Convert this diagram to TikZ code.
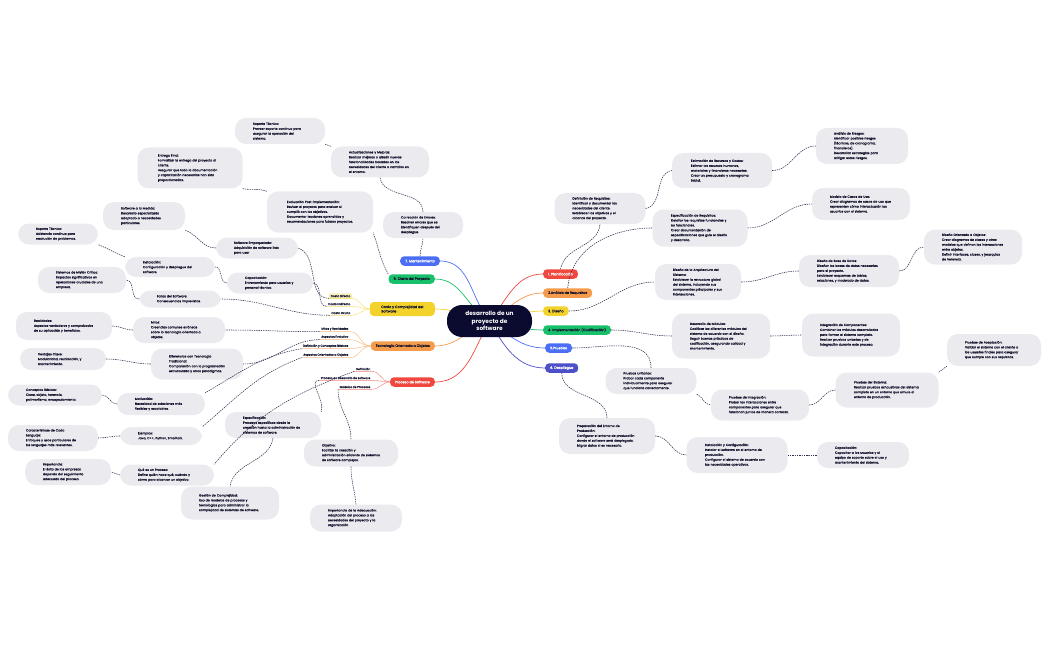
\documentclass[tikz,border=0pt]{standalone}
\usepackage{fontspec}
\setmainfont{Poppins}
\newfontfamily\notefont{Poppins}[FakeBold=0.5]
\usetikzlibrary{backgrounds}
\hyphenpenalty=10000
\exhyphenpenalty=10000

\definecolor{hubc}{HTML}{0B0B30}
\definecolor{cRed}{HTML}{F0483E}
\definecolor{cOrange}{HTML}{F59B4C}
\definecolor{cYellow}{HTML}{F2D22B}
\definecolor{cGreen}{HTML}{18C06B}
\definecolor{cBlue}{HTML}{4C6EF5}
\definecolor{cIndigo}{HTML}{4C4FC8}
\definecolor{noteg}{HTML}{EBEAEE}
\definecolor{linkc}{HTML}{2E2E50}
\definecolor{inkc}{HTML}{14142E}

\begin{document}
\begin{tikzpicture}[
		x=1pt,y=1pt,
		hub/.style={fill=hubc,text=white,rounded corners=15pt,align=center,
			minimum width=85pt,minimum height=32pt,inner sep=2pt,
			font=\fontsize{5.8}{7.2}\selectfont\bfseries},
		branch/.style={rounded corners=4pt,inner xsep=5pt,inner ysep=1.5pt,
			minimum height=9.5pt,align=center,text=inkc,
			font=\notefont\fontsize{3.4}{4.4}\selectfont},
		sub/.style={inner xsep=1.5pt,inner ysep=1pt,text=inkc,
			font=\notefont\fontsize{2.9}{3.4}\selectfont},
		note/.style={fill=noteg,rounded corners=11pt,inner xsep=18pt,inner ysep=3pt,
			align=left,text=inkc,font=\notefont\fontsize{3.1}{4.9}\selectfont},
		arm/.style={line width=0.7pt},
		twig/.style={line width=0.45pt},
		link/.style={line width=0.55pt,draw=linkc,dash pattern=on 1.4pt off 0.9pt}
		]
		\useasboundingbox (0,0) rectangle (1050,-650);
		% ===== Central topic =====
		\node[hub] (c) at (489.5,-321) {desarrollo de un\\proyecto de\\software};
		% ===== Phases, right side =====
		\node[branch,fill=cRed,text=white,anchor=west] (p1) at (543,-274) {1. Planificación};
		\node[branch,fill=cOrange,anchor=west] (p2) at (543,-293) {2.Análisis de Requisitos};
		\node[branch,fill=cYellow,anchor=west] (p3) at (543,-311) {3. Diseño};
		\node[branch,fill=cGreen,anchor=west] (p4) at (543,-330) {4. Implementación (Codificación)};
		\node[branch,fill=cBlue,text=white,anchor=west] (p5) at (545,-348) {5.Pruebas};
		\node[branch,fill=cIndigo,text=white,anchor=west] (p6) at (545,-368) {6. Despliegue};
		% ===== Topics, left side =====
		\node[branch,fill=cBlue,text=white,anchor=east] (b7) at (440,-261) {7. Mantenimiento};
		\node[branch,fill=cGreen,anchor=east] (b8) at (435,-279) {8. Cierre del Proyecto};
		\node[branch,fill=cYellow,anchor=east,align=left,minimum height=14pt,minimum width=65pt] (b9) at (435,-309) {Costo y Complejidad del\\Software};
		\node[branch,fill=cOrange,anchor=east] (b10) at (435,-346) {Tecnología Orientada a Objetos};
		\node[branch,fill=cRed,text=white,anchor=east] (b11) at (435,-382) {Proceso de Software};
		% ===== Arms from the centre =====
		\begin{scope}[on background layer]
			\draw[arm,cRed] (c.center) to[out=50,in=180] (p1.west);
			\draw[arm,cOrange] (c.center) to[out=30,in=180] (p2.west);
			\draw[arm,cYellow] (c.center) to[out=8,in=180] (p3.west);
			\draw[arm,cGreen] (c.center) to[out=-10,in=180] (p4.west);
			\draw[arm,cBlue] (c.center) to[out=-35,in=180] (p5.west);
			\draw[arm,cIndigo] (c.center) to[out=-60,in=180] (p6.west);
			\draw[arm,cBlue] (c.center) to[out=130,in=0] (b7.east);
			\draw[arm,cGreen] (c.center) to[out=150,in=0] (b8.east);
			\draw[arm,cYellow] (c.center) to[out=172,in=0] (b9.east);
			\draw[arm,cOrange] (c.center) to[out=-160,in=0] (b10.east);
			\draw[arm,cRed] (c.center) to[out=-120,in=0] (b11.east);
		\end{scope}
		% ===== Sub topics =====
		\node[sub,anchor=east,fill=cYellow!25,draw=cYellow!70,rounded corners=1pt] (cd) at (352,-296) {Costo Directo};
		\node[sub,anchor=east] (ci) at (352,-304) {Costo Indirecto};
		\node[sub,anchor=east] (co) at (352,-313) {Costo Oculto};
		\node[sub,anchor=east] (mr) at (350,-329) {Mitos y Realidades};
		\node[sub,anchor=east] (ae) at (350,-337) {Aspectos Evolutivo};
		\node[sub,anchor=east] (dc) at (350,-346) {Definición y Conceptos Básicos};
		\node[sub,anchor=east] (ao) at (350,-355) {Aspectos Orientados a Objetos};
		\node[sub,anchor=east] (df) at (372,-369) {Definición};
		\node[sub,anchor=east] (pd) at (372,-378) {Proceso en Desarrollo de software};
		\node[sub,anchor=east] (mp) at (372,-387) {Modelos de Procesos};
		\foreach \s/\b/\col in {cd/b9/cYellow,ci/b9/cYellow,co/b9/cYellow,
			mr/b10/cOrange,ae/b10/cOrange,dc/b10/cOrange,ao/b10/cOrange,
			df/b11/cRed,pd/b11/cRed,mp/b11/cRed}{
			\draw[twig,\col!70] (\b.west) to[out=180,in=0] (\s.south east) -- (\s.south west);
		}
		% ===== Notes: planning =====
		\node[note,minimum width=89pt,minimum height=31pt,text width=55pt] (nDefReq) at (600,-208.5)
		{Definición de Requisitos:\\Identificar y documentar las necesidades del cliente.\\Establecer los objetivos y el alcance del proyecto.};
		\node[note,minimum width=100pt,minimum height=35pt,text width=62pt] (nEstim) at (722,-170.5)
		{Estimación de Recursos y Costos:\\Estimar los recursos humanos, materiales y financieros necesarios.\\Crear un presupuesto y cronograma inicial.};
		\node[note,minimum width=92pt,minimum height=36pt,text width=56pt] (nRiesgo) at (862,-146)
		{Análisis de Riesgos:\\Identificar posibles riesgos (técnicos, de cronograma, financieros).\\Desarrollar estrategias para mitigar estos riesgos.};
		% ===== Notes: requirements =====
		\node[note,minimum width=95pt,minimum height=37pt,text width=58pt] (nEspec) at (700,-228)
		{Especificación de Requisitos:\\Detallar los requisitos funcionales y no funcionales.\\Crear documentación de especificaciones que guíe el diseño y desarrollo.};
		\node[note,minimum width=98pt,minimum height=32pt,text width=62pt] (nCasos) at (861,-204)
		{Modelo de Casos de Uso:\\Crear diagramas de casos de uso que representen cómo interactuarán los usuarios con el sistema.};
		% ===== Notes: design =====
		\node[note,minimum width=84pt,minimum height=36pt,text width=50pt] (nArq) at (698,-282)
		{Diseño de la Arquitectura del Sistema:\\Establecer la estructura global del sistema, incluyendo sus componentes principales y sus interacciones.};
		\node[note,minimum width=100pt,minimum height=32pt,text width=64pt] (nBD) at (849,-271)
		{Diseño de Base de Datos:\\Diseñar las bases de datos necesarias para el proyecto.\\Establecer esquemas de tablas, relaciones, y modelado de datos.};
		\node[note,minimum width=98pt,minimum height=35pt,text width=62pt] (nDOO) at (973,-247)
		{Diseño Orientado a Objetos:\\Crear diagramas de clases y otros modelos que definan las interacciones entre objetos.\\Definir interfaces, clases, y jerarquías de herencia.};
		% ===== Notes: implementation =====
		\node[note,minimum width=98pt,minimum height=45pt,text width=62pt] (nMod) at (721,-336)
		{Desarrollo de Módulos:\\Codificar los diferentes módulos del sistema de acuerdo con el diseño.\\Seguir buenas prácticas de codificación, asegurando calidad y mantenimiento.};
		\node[note,minimum width=98pt,minimum height=43pt,text width=62pt] (nInteg) at (851,-335)
		{Integración de Componentes:\\Combinar los módulos desarrollados para formar el sistema completo.\\Realizar pruebas unitarias y de integración durante este proceso.};
		% ===== Notes: testing =====
		\node[note,minimum width=89pt,minimum height=26pt,text width=55pt] (nUnit) at (651,-381)
		{Pruebas Unitarias:\\Probar cada componente individualmente para asegurar que funciona correctamente.};
		\node[note,minimum width=98pt,minimum height=31pt,text width=62pt] (nIntegP) at (760,-405)
		{Pruebas de Integración:\\Probar las interacciones entre componentes para asegurar que funcionan juntos de manera correcta.};
		\node[note,minimum width=103pt,minimum height=35pt,text width=66pt] (nSist) at (887,-390)
		{Pruebas del Sistema:\\Realizar pruebas exhaustivas del sistema completo en un entorno que simule el entorno de producción.};
		\node[note,minimum width=93pt,minimum height=32pt,text width=58pt] (nAcept) at (994,-350)
		{Pruebas de Aceptación:\\Validar el sistema con el cliente o los usuarios finales para asegurar que cumple con sus requisitos.};
		% ===== Notes: deployment =====
		\node[note,minimum width=96pt,minimum height=36pt,text width=60pt] (nEntorno) at (607,-436)
		{Preparación del Entorno de Producción:\\Configurar el entorno de producción donde el software será desplegado.\\Migrar datos si es necesario.};
		\node[note,minimum width=101pt,minimum height=36pt,text width=64pt] (nInst) at (737,-455)
		{Instalación y Configuración:\\Instalar el software en el entorno de producción.\\Configurar el sistema de acuerdo con las necesidades operativas.};
		\node[note,minimum width=90pt,minimum height=26pt,text width=56pt] (nCapac) at (863,-455)
		{Capacitación:\\Capacitar a los usuarios y al equipo de soporte sobre el uso y mantenimiento del sistema.};
		% ===== Notes: maintenance and closing =====
		\node[note,minimum width=73pt,minimum height=26pt,text width=44pt] (nCorr) at (423,-225)
		{Corrección de Errores:\\Resolver errores que se identifiquen después del despliegue.};
		\node[note,minimum width=98pt,minimum height=31pt,text width=62pt] (nActu) at (380,-162)
		{Actualizaciones y Mejoras:\\Realizar mejoras o añadir nuevas funcionalidades basadas en las necesidades del cliente o cambios en el entorno.};
		\node[note,minimum width=88pt,minimum height=26pt,text width=54pt] (nSopT) at (280,-131)
		{Soporte Técnico:\\Proveer soporte continuo para asegurar la operación del sistema.};
		\node[note,minimum width=106pt,minimum height=41pt,text width=66pt] (nEval) at (320,-212)
		{Evaluación Post-implementación:\\Revisar el proyecto para evaluar si cumplió con los objetivos.\\Documentar lecciones aprendidas y recomendaciones para futuros proyectos.};
		\node[note,minimum width=105pt,minimum height=41pt,text width=64pt] (nEntrega) at (190,-168)
		{Entrega Final:\\Formalizar la entrega del proyecto al cliente.\\Asegurar que toda la documentación y capacitación necesarias han sido proporcionadas.};
		% ===== Notes: cost =====
		\node[note,minimum width=76pt,minimum height=21pt,text width=46pt] (nSwEmp) at (257,-248)
		{Software Empaquetado:\\Adquisición de software listo para usar};
		\node[note,minimum width=76pt,minimum height=28pt,text width=46pt] (nSwMed) at (144,-216)
		{Software a la Medida:\\Desarrollo especializado adaptado a necesidades particulares.};
		\node[note,minimum width=76pt,minimum height=21pt,text width=50pt] (nCapT) at (270,-283)
		{Capacitación:\\Entrenamiento para usuarios y personal técnico.};
		\node[note,minimum width=85pt,minimum height=20pt,text width=54pt] (nInstal) at (170,-267)
		{Instalación:\\Configuración y despliegue del software.};
		\node[note,minimum width=72pt,minimum height=21pt,text width=44pt] (nSopT2) at (58,-234)
		{Soporte Técnico:\\Asistencia continua para resolución de problemas.};
		\node[note,minimum width=73pt,minimum height=17pt,text width=46pt] (nFallas) at (180,-299)
		{Fallas del Software:\\Consecuencias imprevistas.};
		\node[note,minimum width=83pt,minimum height=26pt,text width=52pt] (nMision) at (82,-280)
		{Sistemas de Misión Crítica:\\Impactos significativos en operaciones cruciales de una empresa.};
		% ===== Notes: object technology =====
		\node[note,minimum width=88pt,minimum height=26pt,text width=56pt] (nMitos) at (179,-330)
		{Mitos:\\Creencias comunes erróneas sobre la tecnología orientada a objetos.};
		\node[note,minimum width=92pt,minimum height=28pt,text width=60pt] (nReal) at (64,-326)
		{Realidades:\\Aspectos verdaderos y comprobados de su aplicación y beneficios.};
		\node[note,minimum width=90pt,minimum height=31pt,text width=56pt] (nDifer) at (197,-364)
		{Diferencias con Tecnología Tradicional:\\Comparación con la programación estructurada y otros paradigmas.};
		\node[note,minimum width=79pt,minimum height=22pt,text width=50pt] (nVent) at (63,-359)
		{Ventajas Clave:\\Modularidad, reutilización, y mantenimiento.};
		\node[note,minimum width=82pt,minimum height=22pt,text width=52pt] (nMotiv) at (161,-404)
		{Motivación:\\Necesidad de soluciones más flexibles y escalables.};
		\node[note,minimum width=86pt,minimum height=21pt,text width=58pt] (nConc) at (55,-395)
		{Conceptos Básicos:\\Clase, objeto, herencia, polimorfismo, encapsulamiento.};
		\node[note,minimum width=72pt,minimum height=18pt,text width=46pt] (nEjem) at (161,-436)
		{Ejemplos:\\Java, C++, Python, Smalltalk.};
		\node[note,minimum width=84pt,minimum height=26pt,text width=54pt] (nCarac) at (53,-438)
		{Características de Cada Lenguaje:\\Enfoques y usos particulares de los lenguajes más relevantes.};
		% ===== Notes: software process =====
		\node[note,minimum width=88pt,minimum height=21pt,text width=58pt] (nQue) at (167,-475)
		{Qué es un Proceso:\\Define quién hace qué, cuándo y cómo para alcanzar un objetivo.};
		\node[note,minimum width=79pt,minimum height=26pt,text width=50pt] (nImp) at (68,-472)
		{Importancia:\\El éxito de las empresas depende del seguimiento adecuado del proceso.};
		\node[note,minimum width=92pt,minimum height=26pt,text width=60pt] (nEspP) at (273,-425)
		{Especificación:\\Procesos específicos desde la creación hasta la administración de sistemas de software.};
		\node[note,minimum width=95pt,minimum height=33pt,text width=62pt] (nGest) at (230,-503)
		{Gestión de Complejidad:\\Uso de modelos de procesos y tecnologías para administrar la complejidad de sistemas de software.};
		\node[note,minimum width=92pt,minimum height=27pt,text width=58pt] (nObj) at (351,-453)
		{Objetivo:\\Facilitar la creación y administración eficiente de sistemas de software complejos.};
		\node[note,minimum width=86pt,minimum height=27pt,text width=56pt] (nImpA) at (356,-518)
		{Importancia de la Adecuación:\\Adaptación del proceso a las necesidades del proyecto y la organización.};
		% ===== Dashed links, right side =====
		\draw[link] (p1.north) to[out=80,in=-95] (nDefReq.south);
		\draw[link] (nDefReq.east) to[out=10,in=190] (nEstim.west);
		\draw[link] (nEstim.east) to[out=0,in=180] (nRiesgo.west);
		\draw[link] (p2.north) to[out=85,in=180] (nEspec.west);
		\draw[link] (nEspec.east) to[out=0,in=180] (nCasos.west);
		\draw[link] (p3.east) to[out=0,in=180] (nArq.west);
		\draw[link] (nArq.east) to[out=0,in=180] (nBD.west);
		\draw[link] (nBD.east) to[out=0,in=180] (nDOO.west);
		\draw[link] (p4.east) to[out=0,in=180] (nMod.west);
		\draw[link] (nMod.east) to[out=0,in=180] (nInteg.west);
		\draw[link] (p5.east) to[out=0,in=90] (nUnit.north);
		\draw[link] (nUnit.south east) to[out=-20,in=180] (nIntegP.west);
		\draw[link] (nIntegP.east) to[out=0,in=180] (nSist.west);
		\draw[link] (nSist.north east) to[out=20,in=200] (nAcept.south west);
		\draw[link] (p6.south) to[out=-90,in=90] (nEntorno.north);
		\draw[link] (nEntorno.east) to[out=0,in=180] (nInst.west);
		\draw[link] (nInst.east) to[out=0,in=180] (nCapac.west);
		% ===== Dashed links, left side =====
		\draw[link] (b7.north) to[out=90,in=-90] (nCorr.south);
		\draw[link] (nCorr.north) to[out=90,in=-80] (nActu.south);
		\draw[link] (nActu.north west) to[out=160,in=-20] (nSopT.south east);
		\draw[link] (b8.north west) to[out=120,in=-70] (nEval.south east);
		\draw[link] (nEval.north west) to[out=160,in=-10] (nEntrega.south east);
		\draw[link] (cd.south west) to[out=180,in=-20] (nSwEmp.east);
		\draw[link] (nSwEmp.west) to[out=180,in=-20] (nSwMed.south east);
		\draw[link] (ci.south west) to[out=180,in=-10] (nCapT.east);
		\draw[link] (nCapT.west) to[out=180,in=0] (nInstal.east);
		\draw[link] (nInstal.north west) to[out=160,in=-20] (nSopT2.south east);
		\draw[link] (co.south west) to[out=180,in=0] (nFallas.east);
		\draw[link] (nFallas.west) to[out=180,in=0] (nMision.east);
		\draw[link] (mr.south west) to[out=180,in=0] (nMitos.east);
		\draw[link] (nMitos.west) to[out=180,in=0] (nReal.east);
		\draw[link] (ae.south west) to[out=180,in=0] (nDifer.east);
		\draw[link] (nDifer.west) to[out=180,in=0] (nVent.east);
		\draw[link] (dc.south west) to[out=190,in=30] (nMotiv.north east);
		\draw[link] (nMotiv.west) to[out=180,in=0] (nConc.east);
		\draw[link] (ao.south west) to[out=200,in=40] (nEjem.north east);
		\draw[link] (nEjem.west) to[out=180,in=0] (nCarac.east);
		\draw[link] (df.south west) to[out=200,in=50] (nQue.north east);
		\draw[link] (nQue.west) to[out=180,in=0] (nImp.east);
		\draw[link] (pd.south west) to[out=180,in=70] (nEspP.north east);
		\draw[link] (nEspP.south) to[out=-100,in=80] (nGest.north);
		\draw[link] (mp.south west) to[out=-90,in=90] (nObj.north);
		\draw[link] (nObj.south) to[out=-90,in=95] (nImpA.north);
\end{tikzpicture}
\end{document}
